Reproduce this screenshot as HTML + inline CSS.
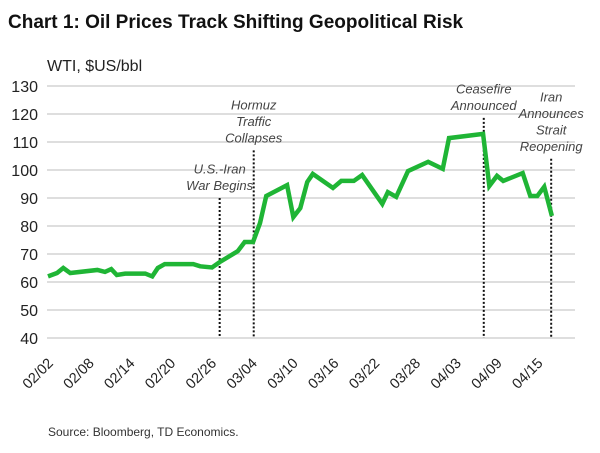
<!DOCTYPE html>
<html><head><meta charset="utf-8"><style>
body{margin:0;background:#fff;width:600px;height:448px;overflow:hidden;font-family:"Liberation Sans",sans-serif}
</style></head><body>
<svg id="chart" width="600" height="448" xmlns="http://www.w3.org/2000/svg">
<text x="8" y="28" font-size="19" font-weight="bold" fill="#111">Chart 1: Oil Prices Track Shifting Geopolitical Risk</text>
<text x="47" y="71" font-size="16" fill="#222">WTI, $US/bbl</text>
<text x="48" y="436" font-size="12" fill="#333">Source: Bloomberg, TD Economics.</text>
<g id="grid"></g><g id="yt"></g><g id="xt"></g><g id="ev"></g><g id="ln"></g>
</svg>
<script>
const days=[0,1.3,2.2,3.2,7.1,8.2,9.1,9.9,11.1,14,15,15.8,16.8,20.9,21.9,23.6,24.7,27.3,28.3,29.5,30.5,31.4,34.4,35.3,36.3,37.3,38.1,41,42.2,44,45.2,48.1,48.9,50.1,51.8,54.7,56.8,57.7,62.6,63.5,64.6,65.5,68.3,69.4,70.4,71.4,72.5];
const prices=[62,63.2,65,63.2,64.3,63.6,64.6,62.5,63,63,62,65,66.4,66.4,65.6,65.2,67.1,71,74.3,74.3,81,90.7,94.6,83.2,86.4,95.7,98.6,93.6,96.1,96.1,98.2,87.9,92.1,90.4,99.6,102.9,100.4,111.4,112.9,94.3,97.9,96.1,98.9,90.7,90.7,94,83.6];
const yTicks=[40,50,60,70,80,90,100,110,120,130];
const xLabels=["02/02","02/08","02/14","02/20","02/26","03/04","03/10","03/16","03/22","03/28","04/03","04/09","04/15"];
const xLabelDays=[0,6,12,18,24,30,36,42,48,54,60,66,72];
const eventDays=[24.7,29.6,62.7,72.4];
const eventTops=[90,107,118.6,104];
const eventTexts=[["U.S.-Iran","War Begins"],["Hormuz","Traffic","Collapses"],["Ceasefire","Announced"],["Iran","Announces","Strait","Reopening"]];
const NS="http://www.w3.org/2000/svg";
const X=d=>48+d*6.95, Y=v=>338-(v-40)*2.8;
const XL=d=>54+d*6.8;
function mk(p,t,a){const e=document.createElementNS(NS,t);for(const k in a)e.setAttribute(k,a[k]);document.getElementById(p).appendChild(e);return e;}
yTicks.forEach(v=>{
 const g=mk('grid','line',{x1:47,x2:575,y1:Y(v),y2:Y(v),stroke:'#d4d4d4','stroke-width':1.5});
 
 
 const t=mk('yt','text',{x:38,y:Y(v)+6,'text-anchor':'end','font-size':16,fill:'#222'});
 t.textContent=v;
 
 
});
xLabels.forEach((s,i)=>{
 const x=XL(xLabelDays[i]),y=364;
 const t=mk('xt','text',{x:x,y:y,'text-anchor':'end','font-size':14.5,fill:'#222',transform:`rotate(-45 ${x} ${y})`});
 t.textContent=s;
 
 
});
eventDays.forEach((d,i)=>{
 const x=X(d);
 const l=mk('ev','line',{x1:x,x2:x,y1:Y(eventTops[i]),y2:338,stroke:'#111','stroke-width':2,'stroke-dasharray':'2 2'});
 
 
 const lines=eventTexts[i],n=lines.length;
 lines.forEach((s,j)=>{
  const t=mk('ev','text',{x:x,y:Y(eventTops[i])-8-(n-1-j)*16.5,'text-anchor':'middle','font-size':13,'font-style':'italic',fill:'#444'});
  t.textContent=s;
  
  
 });
});
const p=mk('ln','polyline',{points:days.map((d,i)=>X(d)+','+Y(prices[i])).join(' '),fill:'none',stroke:'#1fb535','stroke-width':4.5,'stroke-linejoin':'miter'});


</script>
</body></html>
